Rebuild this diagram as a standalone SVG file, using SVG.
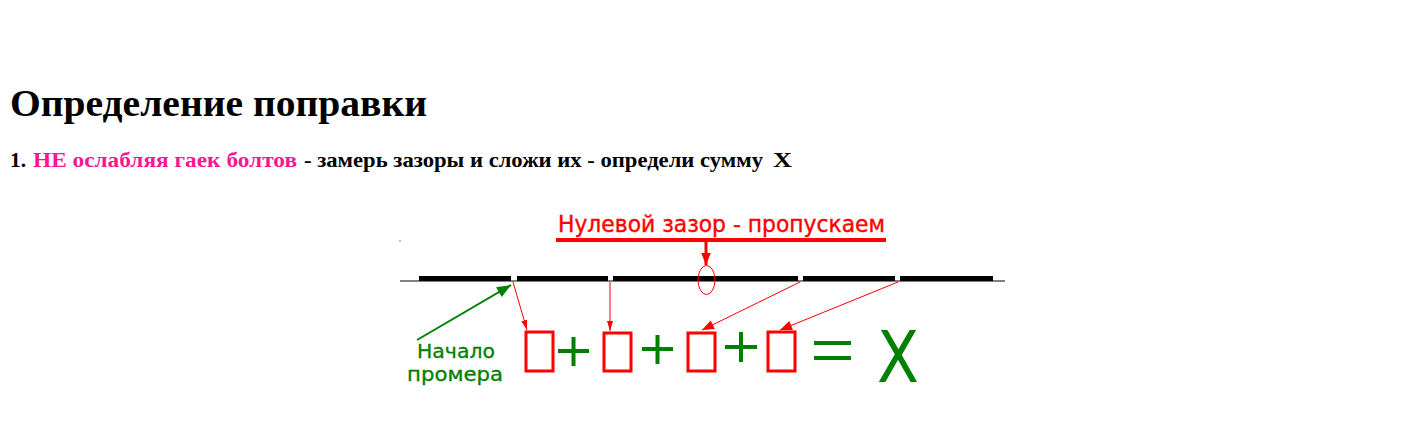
<svg xmlns="http://www.w3.org/2000/svg" width="1402" height="440" viewBox="0 0 1402 440">
<defs>
<style>
.ser{font-family:"Liberation Serif","Times New Roman",serif;font-weight:bold}
.san{font-family:"DejaVu Sans",Verdana,sans-serif}
.bar{fill:#000}
.box{fill:none;stroke:#f00;stroke-width:3}
.pl{stroke:#008000;stroke-width:4;fill:none}
.thin{stroke:#f00;stroke-width:1;fill:none}
</style>
<marker id="ra" viewBox="0 0 10 10" refX="10" refY="5" markerWidth="10" markerHeight="10" markerUnits="userSpaceOnUse" orient="auto"><path d="M0,2 L10,5 L0,8 z" fill="#f00"/></marker>
<marker id="rb" viewBox="0 0 10 10" refX="10" refY="5" markerWidth="14" markerHeight="12" markerUnits="userSpaceOnUse" orient="auto"><path d="M0,1 L10,5 L0,9 z" fill="#f00"/></marker>
<marker id="ga" viewBox="0 0 10 10" refX="10" refY="5" markerWidth="24" markerHeight="14" markerUnits="userSpaceOnUse" orient="auto"><path d="M0,1 L10,5 L0,9 z" fill="#008000"/></marker>
</defs>
<rect width="1402" height="440" fill="#fff"/>
<g id="title"><text class="ser" x="10" y="116" font-size="38" textLength="417" lengthAdjust="spacingAndGlyphs">Определение поправки</text></g>
<g id="subtitle" class="ser" font-size="21">
<text x="10" y="167" textLength="16" lengthAdjust="spacingAndGlyphs">1.</text>
<text x="33" y="167" fill="#ff1493" textLength="264" lengthAdjust="spacingAndGlyphs">НЕ ослабляя гаек болтов</text>
<text x="304" y="167" textLength="459" lengthAdjust="spacingAndGlyphs">- замерь зазоры и сложи их - определи сумму</text>
<text x="773" y="167" textLength="19" lengthAdjust="spacingAndGlyphs">X</text>
</g>
<g id="rail">
<line x1="400" y1="281" x2="1005" y2="281" stroke="#000" stroke-width="1"/>
<rect class="bar" x="419" y="276" width="92" height="5"/>
<rect class="bar" x="517" y="276" width="91" height="5"/>
<rect class="bar" x="613" y="276" width="185" height="5"/>
<rect class="bar" x="803" y="276" width="92" height="5"/>
<rect class="bar" x="900" y="276" width="93" height="5"/>
<rect x="399.5" y="240.5" width="1" height="1" fill="#000"/>
</g>
<g id="zero-label">
<text class="san" x="558" y="232" font-size="23" fill="#f00" stroke="#f00" stroke-width="0.4" textLength="327" lengthAdjust="spacingAndGlyphs">Нулевой зазор - пропускаем</text>
<line x1="556" y1="240" x2="886" y2="240" stroke="#f00" stroke-width="4"/>
<ellipse cx="706.5" cy="280" rx="8.5" ry="14.5" fill="none" stroke="#f00" stroke-width="1"/>
</g>
<g id="start-label">
<text class="san" fill="#008000" font-size="19" stroke="#008000" stroke-width="0.3"><tspan x="417" y="358.2" textLength="78" lengthAdjust="spacingAndGlyphs">Начало</tspan><tspan x="407" y="380.5" textLength="96" lengthAdjust="spacingAndGlyphs">промера</tspan></text>
</g>
<g id="boxes">
<rect class="box" x="526" y="332" width="27" height="39"/>
<rect class="box" x="604" y="333" width="27" height="38"/>
<rect class="box" x="688" y="333" width="27" height="38"/>
<rect class="box" x="768" y="332" width="27" height="39"/>
</g>
<g id="operators">
<path class="pl" d="M558,351 H589 M573.5,337 V366"/>
<path class="pl" d="M642,349 H673 M657.5,335 V364"/>
<path class="pl" d="M725,347 H757 M741,332 V362"/>
<path class="pl" d="M814,343 H851 M814,358 H851"/>
<text class="san" x="877" y="382" font-size="72" fill="#008000" textLength="42" lengthAdjust="spacingAndGlyphs">X</text>
</g>
<g id="connectors">
<line class="thin" x1="513" y1="282" x2="527" y2="330" marker-end="url(#ra)"/>
<line class="thin" x1="610" y1="282" x2="610" y2="331" marker-end="url(#ra)"/>
<line class="thin" x1="800" y1="282" x2="702" y2="330" marker-end="url(#rb)"/>
<line class="thin" x1="898" y1="282" x2="780" y2="330" marker-end="url(#rb)"/>
<line x1="706" y1="242" x2="706" y2="265" stroke="#f00" stroke-width="3" marker-end="url(#rb)"/>
<line x1="417" y1="340" x2="511" y2="285" stroke="#008000" stroke-width="2" marker-end="url(#ga)"/>
</g>
</svg>
